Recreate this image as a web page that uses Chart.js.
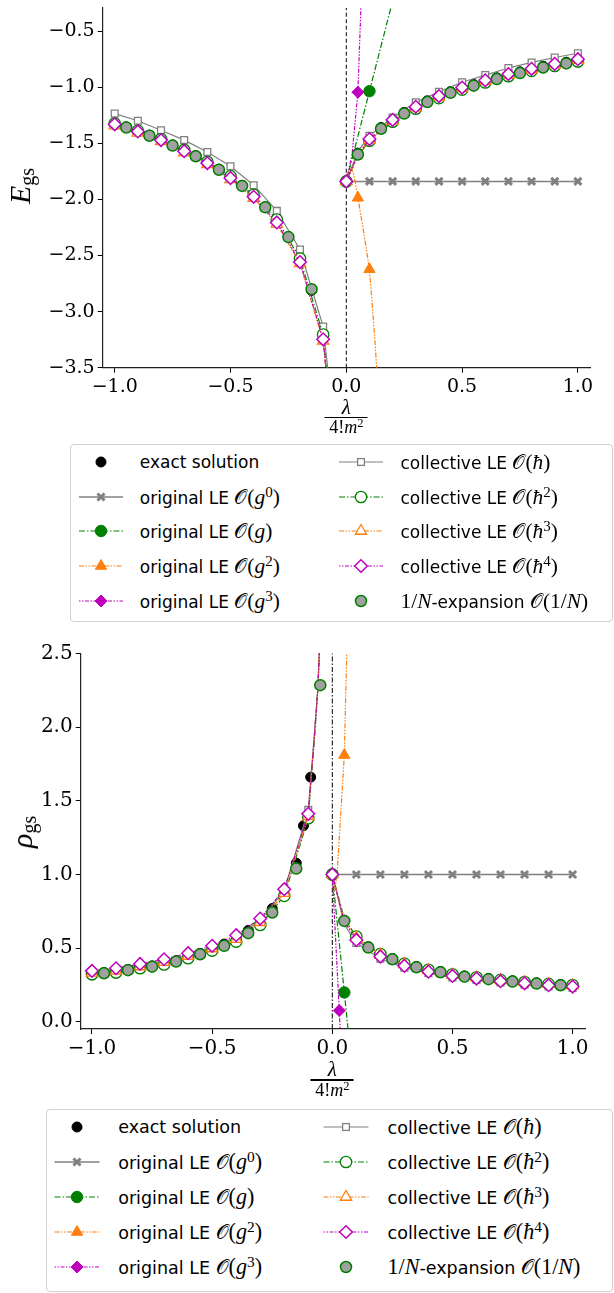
<!DOCTYPE html>
<html lang="en">
<head>
<meta charset="utf-8">
<title>Ground-state energy and density</title>
<script src="https://cdn.jsdelivr.net/npm/chart.js@4.4.1/dist/chart.umd.min.js"></script>
<style>
  html, body { margin: 0; padding: 0; background: #fff; }
  body { position: relative; width: 614px; height: 1293px; overflow: hidden; }
  canvas { position: absolute; left: 0; }
  .ylabel { position: absolute; font-family: "Liberation Serif", serif; white-space: nowrap; line-height: 1; transform: translate(-50%, -50%) rotate(-90deg); }
  .ylabel i { font-size: 30px; }
  .ylabel sub { font-size: 20px; vertical-align: -0.2em; line-height: 0; }
  .frac { position: absolute; transform: translateX(-50%); text-align: center; font-family: "Liberation Serif", serif; }
  .frac .num { font-size: 21px; line-height: 16px; font-style: italic; }
  .frac .bar { width: 43px; height: 1.6px; background: #000; margin: 2px auto 1px; }
  .frac .den { font-size: 18px; line-height: 16px; }
  .frac sup, .legend sup { font-size: 0.7em; vertical-align: 0.45em; line-height: 0; }
  .legend { position: absolute; box-sizing: border-box; border: 1px solid #d0d0d0; border-radius: 4px; background: #fff; }
  .legend .txt { position: absolute; white-space: nowrap; font-family: "DejaVu Sans", sans-serif; line-height: 24px; color: #000; }
  .legend .m { font-family: "Liberation Serif", serif; font-size: 1.26em; }
  .cal { font-family: "DejaVu Sans", "DejaVu Serif", "Noto Sans", serif; font-style: normal; font-size: 0.92em; }
  .legend svg { position: absolute; overflow: visible; }
</style>
</head>
<body>
<canvas id="energyChart" width="614" height="440" style="top:0"></canvas>
<canvas id="densityChart" width="614" height="460" style="top:630px"></canvas>
<script>
// x axis of both panels: lambda / (4! m^2)
const xTicks = [-1.0, -0.5, 0.0, 0.5, 1.0];
const energyTicks = [-3.5, -3.0, -2.5, -2.0, -1.5, -1.0, -0.5];
const densityTicks = [0.0, 0.5, 1.0, 1.5, 2.0, 2.5];

// the collective LE curves carry a marker only at these x
const collMarkX = [-1.0, -0.9, -0.8, -0.7, -0.6, -0.5, -0.4, -0.3, -0.2, -0.1,
                   0.0, 0.1, 0.2, 0.3, 0.4, 0.5, 0.6, 0.7, 0.8, 0.9, 1.0];

// ---------- top panel: E_gs ----------
const eCollNegX = [-1.0, -0.9, -0.8, -0.7, -0.6, -0.5, -0.4, -0.3, -0.2, -0.1, -0.075];
const eCollPosX = [0.0, 0.05, 0.1, 0.2, 0.3, 0.4, 0.5, 0.6, 0.7, 0.8, 0.9, 1.0];
const eH1Neg = [-1.236, -1.300, -1.384, -1.472, -1.578, -1.706, -1.874, -2.103, -2.447, -3.133, -3.600];
const eH1Pos = [-1.840, -1.575, -1.433, -1.272, -1.135, -1.042, -0.957, -0.893, -0.830, -0.780, -0.736, -0.698];
const eH2Neg = [-1.325, -1.388, -1.463, -1.560, -1.665, -1.795, -1.960, -2.180, -2.527, -3.205, -3.750];
const eH2Pos = [-1.840, -1.615, -1.478, -1.308, -1.192, -1.098, -1.022, -0.958, -0.903, -0.855, -0.812, -0.772];
const eH3Neg = [-1.343, -1.407, -1.484, -1.583, -1.689, -1.822, -1.989, -2.218, -2.571, -3.260, -3.800];
const eH3Pos = [-1.840, -1.608, -1.470, -1.300, -1.183, -1.088, -1.012, -0.947, -0.892, -0.845, -0.801, -0.759];
const eH4Neg = [-1.331, -1.395, -1.472, -1.571, -1.677, -1.810, -1.977, -2.206, -2.559, -3.247, -3.800];
const eH4Pos = [-1.840, -1.600, -1.463, -1.292, -1.175, -1.080, -1.004, -0.939, -0.884, -0.837, -0.793, -0.751];

const eLargeNNegX = [-0.95, -0.85, -0.75, -0.65, -0.55, -0.45, -0.35, -0.25, -0.15];
const eLargeNNeg = [-1.360, -1.433, -1.521, -1.616, -1.736, -1.880, -2.071, -2.336, -2.800];
const eLargeNPosX = [0.05, 0.15, 0.25, 0.35, 0.45, 0.55, 0.65, 0.75, 0.85, 0.95];
const eLargeNPos = [-1.600, -1.371, -1.236, -1.133, -1.051, -0.987, -0.928, -0.875, -0.825, -0.789];

const eExactNegX = [-1.0, -0.95, -0.85, -0.75, -0.65, -0.55, -0.45, -0.35, -0.25, -0.15];
const eExactNeg = [-1.320, -1.355, -1.428, -1.516, -1.611, -1.731, -1.875, -2.066, -2.331, -2.812];
const eExactPos = [-1.588, -1.360, -1.225, -1.122, -1.040, -0.976, -0.917, -0.864, -0.814, -0.778];

const eG0X = [0.0, 0.1, 0.2, 0.3, 0.4, 0.5, 0.6, 0.7, 0.8, 0.9, 1.0];
const eG0 = [-1.84, -1.84, -1.84, -1.84, -1.84, -1.84, -1.84, -1.84, -1.84, -1.84, -1.84];
const eG1X = [0.0, 0.1, 0.2];
const eG1 = [-1.840, -1.036, -0.232];
const eG1Marks = [0.0, 0.1];
const eG2X = [0.0, 0.01, 0.02, 0.03, 0.04, 0.05, 0.075, 0.1, 0.12, 0.135];
const eG2 = [-1.840, -1.750, -1.727, -1.760, -1.860, -1.986, -2.290, -2.623, -3.150, -3.620];
const eG2Marks = [0.0, 0.05, 0.1];
const eG3X = [0.0, 0.025, 0.05, 0.063, 0.07];
const eG3 = [-1.840, -1.600, -1.045, -0.300, 0.100];
const eG3Marks = [0.0, 0.05];

// ---------- bottom panel: rho_gs ----------
const rCollNegX = [-1.0, -0.9, -0.8, -0.7, -0.6, -0.5, -0.4, -0.3, -0.2, -0.1, -0.09, -0.075, -0.06, -0.05];
const rCollPosX = [0.0, 0.05, 0.1, 0.2, 0.3, 0.4, 0.5, 0.6, 0.7, 0.8, 0.9, 1.0];
const rH1Neg = [0.340, 0.357, 0.384, 0.415, 0.455, 0.505, 0.575, 0.690, 0.890, 1.438, 1.640, 1.940, 2.270, 2.700];
const rH1Pos = [1.000, 0.660, 0.535, 0.428, 0.368, 0.330, 0.302, 0.284, 0.267, 0.253, 0.240, 0.230];
const rH2Neg = [0.323, 0.335, 0.364, 0.390, 0.432, 0.484, 0.545, 0.658, 0.855, 1.382, 1.600, 1.910, 2.250, 2.680];
const rH2Pos = [1.000, 0.700, 0.579, 0.460, 0.395, 0.354, 0.323, 0.303, 0.285, 0.270, 0.258, 0.250];
const rH3Neg = [0.333, 0.347, 0.376, 0.405, 0.447, 0.498, 0.562, 0.676, 0.873, 1.395, 1.610, 1.920, 2.250, 2.680];
const rH3Pos = [1.000, 0.690, 0.570, 0.455, 0.390, 0.350, 0.320, 0.300, 0.282, 0.268, 0.256, 0.247];
const rH4Neg = [0.346, 0.364, 0.393, 0.425, 0.466, 0.516, 0.588, 0.701, 0.900, 1.411, 1.620, 1.930, 2.260, 2.680];
const rH4Pos = [1.000, 0.680, 0.556, 0.443, 0.380, 0.341, 0.312, 0.294, 0.276, 0.262, 0.249, 0.240];

const rLargeNNegX = [-0.95, -0.85, -0.75, -0.65, -0.55, -0.45, -0.35, -0.25, -0.15, -0.05];
const rLargeNNeg = [0.330, 0.351, 0.375, 0.409, 0.459, 0.516, 0.602, 0.742, 1.040, 2.284];
const rLargeNPosX = [0.05, 0.15, 0.25, 0.35, 0.45, 0.55, 0.65, 0.75, 0.85, 0.95];
const rLargeNPos = [0.685, 0.504, 0.425, 0.371, 0.337, 0.307, 0.290, 0.274, 0.260, 0.249];

const rExactNegX = [-1.0, -0.95, -0.85, -0.75, -0.65, -0.55, -0.45, -0.35, -0.25, -0.15, -0.12, -0.09];
const rExactNeg = [0.337, 0.335, 0.356, 0.380, 0.415, 0.465, 0.528, 0.620, 0.769, 1.077, 1.330, 1.660];
const rExactPos = [0.690, 0.510, 0.430, 0.376, 0.342, 0.312, 0.295, 0.279, 0.265, 0.254];

const rG0X = [0.0, 0.1, 0.2, 0.3, 0.4, 0.5, 0.6, 0.7, 0.8, 0.9, 1.0];
const rG0 = [1.0, 1.0, 1.0, 1.0, 1.0, 1.0, 1.0, 1.0, 1.0, 1.0, 1.0];
const rG1X = [0.0, 0.05, 0.07];
const rG1 = [1.000, 0.200, -0.120];
const rG1Marks = [0.0, 0.05];
const rG2X = [0.0, 0.005, 0.011, 0.02, 0.032, 0.05, 0.06, 0.065];
const rG2 = [1.000, 0.930, 0.905, 1.000, 1.325, 1.810, 2.500, 2.900];
const rG2Marks = [0.0, 0.05];
const rG3X = [0.0, 0.029, 0.035];
const rG3 = [1.000, 0.077, -0.150];
const rG3Marks = [0.0, 0.029];

// ---------- styles ----------
const GREY = '#808080', GREEN = '#008000', ORANGE = '#ff7f0e', MAGENTA = '#bf00bf';
const DASH_DOT = [6, 2, 1.5, 2];
const DASH_DOT_DOT = [5, 1.5, 1.5, 1.5, 1.5, 1.5];
const DOT_DOT_DASH = [1.5, 1.5, 1.5, 1.5, 4, 1.5];

const O = '<span class="cal">\u{1D4AA}</span>';
const SERIES = [
    { key: 'exact', label: 'exact solution', line: null, shape: 'circle', r: 5, fill: '#000', edge: '#000', bw: 1 },
    { key: 'g0', label: `original LE <span class="m">${O}(<i>g</i><sup>0</sup>)</span>`, line: { color: GREY, dash: [], w: 1.5 }, shape: 'crossRot', r: 5, fill: GREY, edge: GREY, bw: 3 },
    { key: 'g1', label: `original LE <span class="m">${O}(<i>g</i>)</span>`, line: { color: GREEN, dash: DASH_DOT, w: 1.2 }, shape: 'circle', r: 5.7, fill: GREEN, edge: GREEN, bw: 1 },
    { key: 'g2', label: `original LE <span class="m">${O}(<i>g</i><sup>2</sup>)</span>`, line: { color: ORANGE, dash: DASH_DOT_DOT, w: 1.2 }, shape: 'triangle', r: 6.5, fill: ORANGE, edge: ORANGE, bw: 1 },
    { key: 'g3', label: `original LE <span class="m">${O}(<i>g</i><sup>3</sup>)</span>`, line: { color: MAGENTA, dash: DOT_DOT_DASH, w: 1.2 }, shape: 'rectRot', r: 6, fill: MAGENTA, edge: MAGENTA, bw: 1 },
    { key: 'h1', label: `collective LE <span class="m">${O}(<i>ħ</i>)</span>`, line: { color: GREY, dash: [], w: 1.2 }, shape: 'rect', r: 4.8, fill: '#fff', edge: GREY, bw: 1.3 },
    { key: 'h2', label: `collective LE <span class="m">${O}(<i>ħ</i><sup>2</sup>)</span>`, line: { color: GREEN, dash: DASH_DOT, w: 1.2 }, shape: 'circle', r: 5.7, fill: '#fff', edge: GREEN, bw: 1.3 },
    { key: 'h3', label: `collective LE <span class="m">${O}(<i>ħ</i><sup>3</sup>)</span>`, line: { color: ORANGE, dash: DASH_DOT_DOT, w: 1.2 }, shape: 'triangle', r: 6.5, fill: '#fff', edge: ORANGE, bw: 1.3 },
    { key: 'h4', label: `collective LE <span class="m">${O}(<i>ħ</i><sup>4</sup>)</span>`, line: { color: MAGENTA, dash: DOT_DOT_DASH, w: 1.2 }, shape: 'rectRot', r: 6.3, fill: '#fff', edge: MAGENTA, bw: 1.5 },
    { key: 'largeN', label: `<span class="m">1/<i>N</i></span>-expansion <span class="m">${O}(1/<i>N</i>)</span>`, line: null, shape: 'circle', r: 5.5, fill: '#a0a0a0', edge: GREEN, bw: 1.5 }
];

const energyPanel = {
    canvas: 'energyChart',
    xRange: [-1.0518, 1.0553], yRange: [-3.5, -0.295], yTicks: energyTicks,
    yAxisWidth: 102.7, padTop: 4.3, padRight: 23.3, xAxisHeight: 72.3,
    tickFont: 19, zeroDash: [4, 2.5],
    series: {
        exact: [[eExactNegX, eExactNeg], [eLargeNPosX, eExactPos]],
        g0: [[eG0X, eG0]],
        g1: [[eG1X, eG1, eG1Marks]],
        g2: [[eG2X, eG2, eG2Marks]],
        g3: [[eG3X, eG3, eG3Marks]],
        h1: [[eCollNegX, eH1Neg, collMarkX], [eCollPosX, eH1Pos, collMarkX]],
        h2: [[eCollNegX, eH2Neg, collMarkX], [eCollPosX, eH2Pos, collMarkX]],
        h3: [[eCollNegX, eH3Neg, collMarkX], [eCollPosX, eH3Pos, collMarkX]],
        h4: [[eCollNegX, eH4Neg, collMarkX], [eCollPosX, eH4Pos, collMarkX]],
        largeN: [[eLargeNNegX, eLargeNNeg], [eLargeNPosX, eLargeNPos]]
    }
};

const densityPanel = {
    canvas: 'densityChart',
    xRange: [-1.047, 1.0516], yRange: [-0.048, 2.5], yTicks: densityTicks,
    yAxisWidth: 80.7, padTop: 23.3, padRight: 29, xAxisHeight: 61,
    tickFont: 20, zeroDash: [5, 2, 1.5, 2],
    series: {
        exact: [[rExactNegX, rExactNeg], [rLargeNPosX, rExactPos]],
        g0: [[rG0X, rG0]],
        g1: [[rG1X, rG1, rG1Marks]],
        g2: [[rG2X, rG2, rG2Marks]],
        g3: [[rG3X, rG3, rG3Marks]],
        h1: [[rCollNegX, rH1Neg, collMarkX], [rCollPosX, rH1Pos, collMarkX]],
        h2: [[rCollNegX, rH2Neg, collMarkX], [rCollPosX, rH2Pos, collMarkX]],
        h3: [[rCollNegX, rH3Neg, collMarkX], [rCollPosX, rH3Pos, collMarkX]],
        h4: [[rCollNegX, rH4Neg, collMarkX], [rCollPosX, rH4Pos, collMarkX]],
        largeN: [[rLargeNNegX, rLargeNNeg], [rLargeNPosX, rLargeNPos]]
    }
};

function toPoints(xs, ys) {
    return xs.map((x, i) => ({ x: x, y: ys[i] }));
}

function hasMark(marks, x) {
    return !marks || marks.some(m => Math.abs(m - x) < 1e-9);
}

function fmtTick(v) {
    return (v < 0 ? '\u2212' : '') + Math.abs(v).toFixed(1);
}

function buildDatasets(panel) {
    const out = [];
    const n = SERIES.length;
    // dashed reference line at lambda = 0
    out.push({
        data: toPoints([0, 0], panel.yRange),
        showLine: true, borderColor: '#000', borderWidth: 1, borderDash: panel.zeroDash,
        pointRadius: 0, order: 100, clip: 0
    });
    SERIES.forEach((s, i) => {
        panel.series[s.key].forEach(branch => {
            const [xs, ys, marks] = branch;
            out.push({
                data: toPoints(xs, ys),
                showLine: !!s.line,
                borderColor: s.line ? s.line.color : s.edge,
                borderWidth: s.line ? s.line.w : 0,
                borderDash: s.line ? s.line.dash : [],
                tension: 0,
                pointStyle: s.shape,
                pointRadius: ctx => (hasMark(marks, ctx.raw.x) ? s.r : 0),
                pointBackgroundColor: s.fill,
                pointBorderColor: s.edge,
                pointBorderWidth: s.bw,
                order: n - i,
                clip: 0
            });
        });
    });
    return out;
}

function axisStyle(fontSize) {
    return {
        grid: { drawOnChartArea: false, drawTicks: true, tickLength: 5, color: '#000', lineWidth: 1 },
        border: { display: true, color: '#222', width: 1.2 },
        ticks: {
            color: '#000', padding: 3, autoSkip: false, maxRotation: 0,
            font: { family: 'DejaVu Serif', size: fontSize },
            callback: fmtTick
        }
    };
}

function makeChart(panel) {
    const xAxis = axisStyle(panel.tickFont);
    const yAxis = axisStyle(panel.tickFont);
    return new Chart(document.getElementById(panel.canvas), {
        type: 'scatter',
        data: { datasets: buildDatasets(panel) },
        options: {
            responsive: false,
            animation: false,
            events: [],
            layout: { padding: { left: 0, top: panel.padTop, right: panel.padRight, bottom: 0 } },
            plugins: { legend: { display: false }, tooltip: { enabled: false } },
            scales: {
                x: Object.assign(xAxis, {
                    type: 'linear', min: panel.xRange[0], max: panel.xRange[1],
                    afterBuildTicks: s => { s.ticks = xTicks.map(v => ({ value: v })); },
                    afterFit: s => { s.height = panel.xAxisHeight; s.paddingLeft = 0; s.paddingRight = 0; }
                }),
                y: Object.assign(yAxis, {
                    type: 'linear', min: panel.yRange[0], max: panel.yRange[1],
                    afterBuildTicks: s => { s.ticks = panel.yTicks.map(v => ({ value: v })); },
                    afterFit: s => { s.width = panel.yAxisWidth; s.paddingTop = 0; s.paddingBottom = 0; }
                })
            }
        }
    });
}

// ---------- text around the plots (real text, positioned in page pixels) ----------
function addYLabel(html, cx, cy) {
    const d = document.createElement('div');
    d.className = 'ylabel';
    d.innerHTML = html;
    d.style.left = cx + 'px';
    d.style.top = cy + 'px';
    document.body.appendChild(d);
}

function addFraction(cx, top) {
    const d = document.createElement('div');
    d.className = 'frac';
    d.style.left = cx + 'px';
    d.style.top = top + 'px';
    d.innerHTML = '<div class="num">λ</div><div class="bar"></div><div class="den">4!<i>m</i><sup>2</sup></div>';
    document.body.appendChild(d);
}

function markerSvg(s, cx, cy) {
    const r = s.r;
    const attrs = `fill="${s.fill}" stroke="${s.edge}" stroke-width="${s.bw}"`;
    if (s.shape === 'circle') return `<circle cx="${cx}" cy="${cy}" r="${r}" ${attrs}/>`;
    if (s.shape === 'rect') {
        const h = r * Math.SQRT1_2;
        return `<rect x="${cx - h}" y="${cy - h}" width="${2 * h}" height="${2 * h}" ${attrs}/>`;
    }
    if (s.shape === 'rectRot') {
        return `<polygon points="${cx},${cy - r} ${cx + r},${cy} ${cx},${cy + r} ${cx - r},${cy}" ${attrs}/>`;
    }
    if (s.shape === 'triangle') {
        const a = r * Math.sin(Math.PI / 3), b = r * 0.5;
        return `<polygon points="${cx},${cy - r} ${cx + a},${cy + b} ${cx - a},${cy + b}" ${attrs}/>`;
    }
    // crossRot
    const h = r * Math.SQRT1_2;
    return `<path d="M${cx - h},${cy - h}L${cx + h},${cy + h}M${cx - h},${cy + h}L${cx + h},${cy - h}" stroke="${s.edge}" stroke-width="${s.bw}"/>`;
}

function buildLegend(L) {
    const box = document.createElement('div');
    box.className = 'legend';
    box.style.left = L.left + 'px';
    box.style.top = L.top + 'px';
    box.style.width = (L.right - L.left) + 'px';
    box.style.height = (L.bottom - L.top) + 'px';
    document.body.appendChild(box);
    const ox = L.left + 1, oy = L.top + 1;
    SERIES.forEach((s, i) => {
        const col = i < 5 ? 0 : 1;
        const cy = L.rowY[i % 5] - oy;
        const cx = L.markX[col] - ox;
        const half = L.lineHalf;
        let inner = '';
        if (s.line) {
            inner += `<line x1="${25 - half}" y1="10" x2="${25 + half}" y2="10" stroke="${s.line.color}" stroke-width="${s.line.w}" stroke-dasharray="${s.line.dash.join(' ') || 'none'}"/>`;
        }
        inner += markerSvg(s, 25, 10);
        const svg = document.createElementNS('http://www.w3.org/2000/svg', 'svg');
        svg.setAttribute('width', '50');
        svg.setAttribute('height', '20');
        svg.style.left = (cx - 25) + 'px';
        svg.style.top = (cy - 10) + 'px';
        svg.innerHTML = inner;
        box.appendChild(svg);

        const t = document.createElement('div');
        t.className = 'txt';
        t.style.fontSize = L.font + 'px';
        t.style.left = (L.textX[col] - ox) + 'px';
        t.style.top = (cy - 12) + 'px';
        t.innerHTML = s.label;
        box.appendChild(t);
    });
}

makeChart(energyPanel);
makeChart(densityPanel);

addYLabel('<i>E</i><sub>gs</sub>', 20, 186);
addYLabel('<i>ρ</i><sub>gs</sub>', 22, 832);
addFraction(346.3, 398.7);
addFraction(332.3, 1061.2);

buildLegend({ left: 69.7, top: 444, right: 613, bottom: 621.7, markX: [100.6, 361.4], lineHalf: 22,
              textX: [139.8, 400.5], rowY: [461.7, 496.5, 531.3, 566.1, 600.9], font: 17 });
buildLegend({ left: 46.2, top: 1109, right: 613, bottom: 1291.7, markX: [77.5, 346.5], lineHalf: 22.5,
              textX: [118.2, 387.6], rowY: [1127.3, 1162.3, 1197.3, 1232.3, 1267.3], font: 17.5 });
</script>
</body>
</html>
